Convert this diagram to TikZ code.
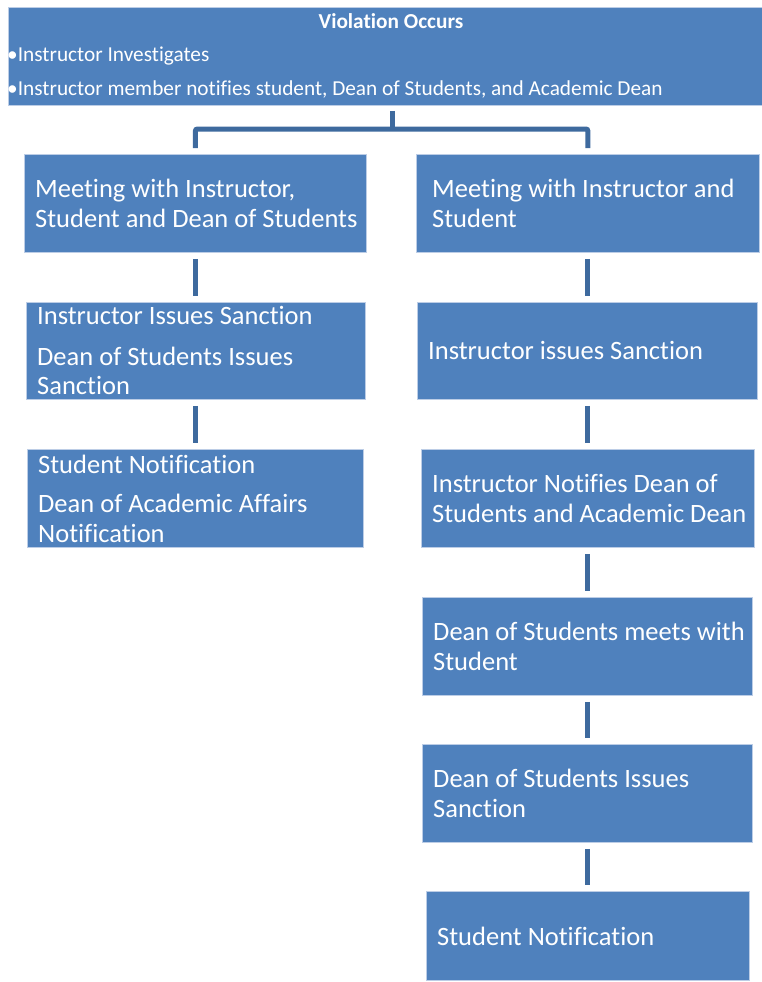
\documentclass[tikz,border=0pt]{standalone}
\usepackage{fontspec}
\setmainfont[Ligatures=NoCommon]{Carlito}
\usetikzlibrary{calc}
\definecolor{boxblue}{HTML}{4F81BD}
\definecolor{boxedge}{HTML}{BCCDE6}
\definecolor{linkblue}{HTML}{3E6A9E}

\begin{document}
\begin{tikzpicture}[x=1pt,y=-1pt,
  box/.style={draw=boxedge, line width=0.8pt, fill=boxblue, inner sep=0pt, anchor=north west},
  boxtext/.style={text=white, inner sep=0pt, align=left, anchor=west,
    font=\fontsize{26.5}{29.5}\selectfont},
  smalltext/.style={text=white, inner sep=0pt, font=\fontsize{21.3}{25}\selectfont},
  link/.style={draw=linkblue, line width=5pt, rounded corners=2pt}
]
\useasboundingbox (0,0) rectangle (762,982);

% boxes
\node[box, minimum width=754pt, minimum height=98pt] (top) at (8,7) {};
\node[box, minimum width=342pt, minimum height=98pt] (l1) at (24,154) {};
\node[box, minimum width=339pt, minimum height=97pt] (l2) at (26,302) {};
\node[box, minimum width=336pt, minimum height=98pt] (l3) at (27,449) {};
\node[box, minimum width=343pt, minimum height=98pt] (r1) at (416,154) {};
\node[box, minimum width=340pt, minimum height=97pt] (r2) at (417,302) {};
\node[box, minimum width=333pt, minimum height=98pt] (r3) at (421,449) {};
\node[box, minimum width=330pt, minimum height=98pt] (r4) at (422,597) {};
\node[box, minimum width=330pt, minimum height=98pt] (r5) at (422,744) {};
\node[box, minimum width=323pt, minimum height=89pt] (r6) at (426,891) {};

% top box text
\node[smalltext, anchor=base, font=\fontsize{21.3}{25}\selectfont\bfseries] (title) at (391,29) {Violation Occurs};
\node[smalltext, anchor=base west] (b1) at (7,62) {•Instructor Investigates};
\node[smalltext, anchor=base west] (b2) at (7,95) {•Instructor member notifies student, Dean of Students, and Academic Dean};

% box texts
\node[boxtext] (l1t) at ($(l1.west)+(11,0)$) {Meeting with Instructor,\\Student and Dean of Students};
\node[boxtext] (l2t) at ($(l2.west)+(11,0)$) {Instructor Issues Sanction\\[11pt]Dean of Students Issues\\Sanction};
\node[boxtext] (l3t) at ($(l3.west)+(11,0)$) {Student Notification\\[10pt]Dean of Academic Affairs\\Notification};
\node[boxtext] (r1t) at ($(r1.west)+(16,0)$) {Meeting with Instructor and\\Student};
\node[boxtext] (r2t) at ($(r2.west)+(11,0)$) {Instructor issues Sanction};
\node[boxtext] (r3t) at ($(r3.west)+(11,0)$) {Instructor Notifies Dean of\\Students and Academic Dean};
\node[boxtext] (r4t) at ($(r4.west)+(11,0)$) {Dean of Students meets with\\Student};
\node[boxtext] (r5t) at ($(r5.west)+(11,0)$) {Dean of Students Issues\\Sanction};
\node[boxtext] (r6t) at ($(r6.west)+(11,0)$) {Student Notification};

% branching connector below the top box
\coordinate (hub) at (392,129);
\coordinate (hubtop) at ($(hub |- top.south)+(0,5)$);
\draw[link] (hubtop) -- (hub);
\draw[link] ($(l1.north)+(0,-6)$) |- (hub) -| ($(r1.north)+(0,-6)$);

% vertical connectors
\tikzset{step link/.style={link, shorten <=6pt, shorten >=6pt}}
\draw[step link] (l1.south) -- (l1.south |- l2.north);
\draw[step link] (l2.south) -- (l2.south |- l3.north);
\draw[step link] (r1.south) -- (r1.south |- r2.north);
\draw[step link] (r2.south) -- (r2.south |- r3.north);
\draw[step link] (r3.south) -- (r3.south |- r4.north);
\draw[step link] (r4.south) -- (r4.south |- r5.north);
\draw[step link] (r5.south) -- (r5.south |- r6.north);
\end{tikzpicture}
\end{document}
